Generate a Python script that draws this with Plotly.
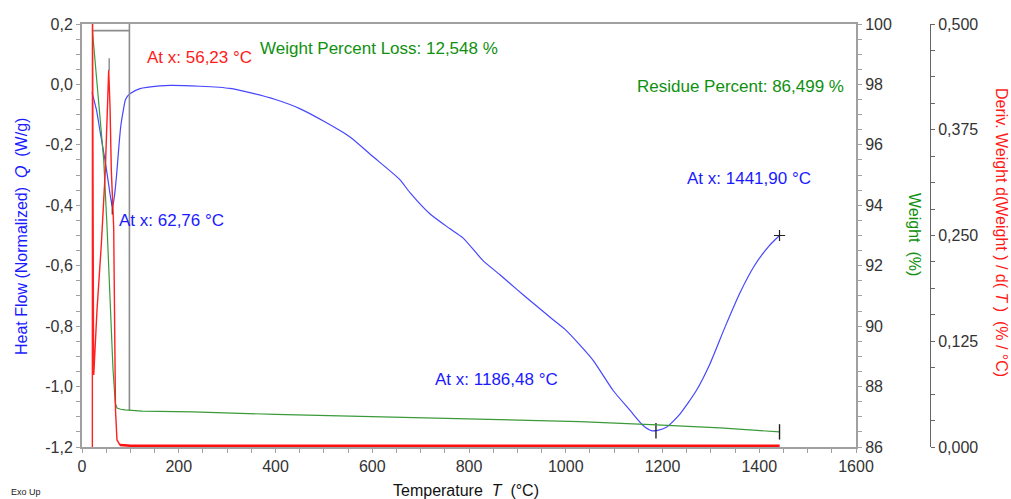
import plotly.graph_objects as go

# ---------------- data ----------------
# Heat flow (W/g) vs temperature (°C)
hf_T = [20.7, 30, 37, 47.5, 55, 63, 67, 71.7, 76, 80, 85.4, 90, 99, 120, 161, 182, 244, 306, 347,
        400, 450, 500, 554, 600, 657, 678, 719, 760, 787, 829, 864, 900, 926, 967, 998, 1029,
        1057, 1098, 1133, 1160, 1177, 1190, 1208, 1236, 1270, 1298, 1330, 1360, 1390, 1420, 1441.9]
hf_Q = [-0.026, -0.085, -0.152, -0.25, -0.33, -0.407, -0.37, -0.296, -0.21, -0.14, -0.086, -0.05,
        -0.031, -0.014, -0.005, -0.003, -0.006, -0.013, -0.027, -0.050, -0.080, -0.122, -0.174,
        -0.237, -0.315, -0.358, -0.428, -0.477, -0.507, -0.583, -0.630, -0.680, -0.715, -0.770,
        -0.810, -0.862, -0.914, -1.013, -1.079, -1.129, -1.146, -1.145, -1.135, -1.091, -1.013,
        -0.925, -0.80, -0.69, -0.60, -0.535, -0.50]

# Weight (%) vs temperature
wt_T = [21.6, 33, 44.9, 52, 58.5, 64, 68.8, 72.3, 80, 89, 124, 229, 400, 600, 800, 1029, 1188, 1319, 1441.9]
wt_W = [99.77, 97.6, 95.5, 93.2, 90.53, 88.6, 87.45, 87.29, 87.25, 87.23, 87.19, 87.16, 87.08,
        87.00, 86.93, 86.84, 86.73, 86.63, 86.50]

# Derivative weight (%/°C) vs temperature
dw_T = [21.4, 21.6, 23.8, 24.3, 31, 40, 48.2, 53, 55.2, 58, 60.6, 65.5, 67.8, 69.2, 72.3, 78.5, 100, 1441.9]
dw_V = [0.0, 0.56, 0.12, 0.085, 0.162, 0.24, 0.327, 0.40, 0.446, 0.40, 0.327, 0.26, 0.15, 0.044,
        0.0083, 0.0024, 0.0016, 0.0016]

# step bracket for weight loss
br_T = [21.6, 98, None, 98, 98]
br_W = [99.78, 99.78, None, 100, 87.22]

# cursor marks
hf_mark_T = [62.76, 1186.48]
hf_mark_Q = [-0.405, -1.146]
hf_end_T = [1441.9]
hf_end_Q = [-0.50]
wt_mark_T = [1441.9]
wt_mark_W = [86.50]
dw_mark_T = [56.23]
dw_mark_V = [0.452]

x_ticks = [0, 200, 400, 600, 800, 1000, 1200, 1400, 1600]
x_text = ["0", "200", "400", "600", "800", "1000", "1200", "1400", "1600"]
y_ticks = [-1.2, -1.0, -0.8, -0.6, -0.4, -0.2, 0.0, 0.2]
y_text = ["-1,2", "-1,0", "-0,8", "-0,6", "-0,4", "-0,2", "0,0", "0,2"]
y2_ticks = [86, 88, 90, 92, 94, 96, 98, 100]
y2_text = ["86", "88", "90", "92", "94", "96", "98", "100"]
y3_ticks = [0, 0.125, 0.25, 0.375, 0.5]
y3_text = ["0,000", "0,125", "0,250", "0,375", "0,500"]

FONT = "Liberation Sans, Arial, sans-serif"
GRAY = "#a0a0a0"
BLUE_T = "#1a1aff"
GREEN_T = "#109010"
RED_T = "#ff1a1a"
TICKC = "#333333"

fig = go.Figure()
fig.add_trace(go.Scatter(x=hf_T, y=hf_Q, mode="lines", line=dict(color="#4646ff", width=1.2,
                         shape="spline", smoothing=0.6),
                         yaxis="y", showlegend=False, hoverinfo="skip"))
fig.add_trace(go.Scatter(x=br_T, y=br_W, mode="lines", line=dict(color="#8c8c8c", width=1.6),
                         yaxis="y2", showlegend=False, hoverinfo="skip"))
fig.add_trace(go.Scatter(x=wt_T, y=wt_W, mode="lines", line=dict(color="#3a9a3a", width=1.2),
                         yaxis="y2", showlegend=False, hoverinfo="skip"))
fig.add_trace(go.Scatter(x=dw_T, y=dw_V, mode="lines", line=dict(color="#ff2020", width=1.4),
                         yaxis="y3", showlegend=False, hoverinfo="skip"))
fig.add_trace(go.Scatter(x=dw_T[-3:], y=dw_V[-3:], mode="lines", line=dict(color="#ff1010", width=2.5),
                         yaxis="y3", showlegend=False, hoverinfo="skip"))
fig.add_trace(go.Scatter(x=hf_mark_T, y=hf_mark_Q, mode="markers", yaxis="y",
                         marker=dict(symbol="line-ns", size=11, line=dict(color="#222", width=1.4)),
                         showlegend=False, hoverinfo="skip"))
fig.add_trace(go.Scatter(x=hf_end_T, y=hf_end_Q, mode="markers", yaxis="y",
                         marker=dict(symbol="cross-thin", size=8, line=dict(color="#222", width=1.2)),
                         showlegend=False, hoverinfo="skip"))
fig.add_trace(go.Scatter(x=wt_mark_T, y=wt_mark_W, mode="markers", yaxis="y2",
                         marker=dict(symbol="line-ns", size=11, line=dict(color="#222", width=1.4)),
                         showlegend=False, hoverinfo="skip"))
fig.add_trace(go.Scatter(x=dw_mark_T, y=dw_mark_V, mode="markers", yaxis="y3",
                         marker=dict(symbol="line-ns", size=9, line=dict(color="#888", width=1.4)),
                         showlegend=False, hoverinfo="skip"))

tickfont = dict(family=FONT, size=16, color=TICKC)

fig.update_layout(
    width=1011, height=499, autosize=False,
    margin=dict(l=82, r=81, t=24, b=52, pad=0),
    paper_bgcolor="white", plot_bgcolor="white",
    font=dict(family=FONT, size=16, color=TICKC),
    xaxis=dict(domain=[0, 774 / 848], range=[0, 1600], tickmode="array", tickvals=x_ticks,
               ticktext=x_text, ticks="outside", ticklen=4, tickcolor=GRAY, tickwidth=1,
               showline=True, linecolor=GRAY, linewidth=2, mirror=True, showgrid=False,
               zeroline=False, tickfont=tickfont,
               minor=dict(tickmode="linear", tick0=0, dtick=50, ticks="outside", ticklen=4,
                          tickcolor=GRAY, showgrid=False)),
    yaxis=dict(range=[-1.2, 0.2], tickmode="array", tickvals=y_ticks, ticktext=y_text,
               ticks="outside", ticklen=4, tickcolor=GRAY, showline=True, linecolor=GRAY,
               linewidth=2, showgrid=False, zeroline=False, tickfont=tickfont,
               minor=dict(tickmode="linear", tick0=0, dtick=0.05, ticks="outside", ticklen=4,
                          tickcolor=GRAY, showgrid=False)),
    yaxis2=dict(range=[86, 100], overlaying="y", side="right", anchor="x", tickmode="array",
                tickvals=y2_ticks, ticktext=y2_text, ticks="outside", ticklen=4, tickcolor=GRAY,
                showline=True, linecolor=GRAY, linewidth=2, showgrid=False, zeroline=False,
                tickfont=tickfont,
                minor=dict(tickmode="linear", tick0=0, dtick=0.5, ticks="outside", ticklen=4,
                           tickcolor=GRAY, showgrid=False)),
    yaxis3=dict(range=[0, 0.5], overlaying="y", side="right", anchor="free", position=1.0,
                tickmode="array", tickvals=y3_ticks, ticktext=y3_text, ticks="outside", ticklen=4,
                tickcolor="#666", showline=True, linecolor="#666", linewidth=1, showgrid=False,
                zeroline=False, tickfont=tickfont,
                minor=dict(tickmode="linear", tick0=0, dtick=0.03125, ticks="outside", ticklen=4,
                           tickcolor="#666", showgrid=False)),
)

NB = "\u00a0"
ann = [
    dict(text="At x: 56,23 °C", x=130, y=0.089, xref="x", yref="y", color=RED_T, size=17),
    dict(text="Weight Percent Loss: 12,548 %", x=364, y=0.119, xref="x", yref="y", color=GREEN_T, size=17),
    dict(text="Residue Percent: 86,499 %", x=1143, y=-0.007, xref="x", yref="y", color=GREEN_T, size=17),
    dict(text="At x: 62,76 °C", x=72, y=-0.450, xref="x", yref="y", color=BLUE_T, size=17),
    dict(text="At x: 1441,90 °C", x=1246.5, y=-0.311, xref="x", yref="y", color=BLUE_T, size=17),
    dict(text="At x: 1186,48 °C", x=725.6, y=-0.977, xref="x", yref="y", color=BLUE_T, size=17),
]
for a in ann:
    fig.add_annotation(text=a["text"], x=a["x"], y=a["y"], xref=a["xref"], yref=a["yref"],
                       xanchor="left", yanchor="middle", showarrow=False,
                       font=dict(family=FONT, size=a["size"], color=a["color"]))

titles = [
    dict(text=f"Heat Flow (Normalized){NB}{NB}<i>Q</i>{NB}{NB}(W/g)", x=(22 - 82) / 848,
         y=(447 - 237) / 423, angle=-90, color=BLUE_T, size=16),
    dict(text=f"Weight{NB}{NB}(%)", x=(915 - 82) / 848, y=(447 - 234) / 423, angle=90,
         color=GREEN_T, size=16),
    dict(text=f"Deriv. Weight d(Weight{NB}) / d({NB}<i>T</i>{NB}){NB}{NB}(% / °C)",
         x=(1002 - 82) / 848, y=(447 - 232) / 423, angle=90, color=RED_T, size=16),
    dict(text=f"Temperature{NB}{NB}<i>T</i>{NB}{NB}(°C)", x=(466 - 82) / 848,
         y=(447 - 490) / 423, angle=0, color="#111111", size=16),
]
for t in titles:
    fig.add_annotation(text=t["text"], x=t["x"], y=t["y"], xref="paper", yref="paper",
                       xanchor="center", yanchor="middle", textangle=t["angle"], showarrow=False,
                       font=dict(family=FONT, size=t["size"], color=t["color"]))

fig.add_annotation(text="Exo Up", x=(9 - 82) / 848, y=(447 - 492) / 423, xref="paper", yref="paper",
                   xanchor="left", yanchor="middle", showarrow=False,
                   font=dict(family=FONT, size=9, color="#222"))

fig.write_html("out.html")
